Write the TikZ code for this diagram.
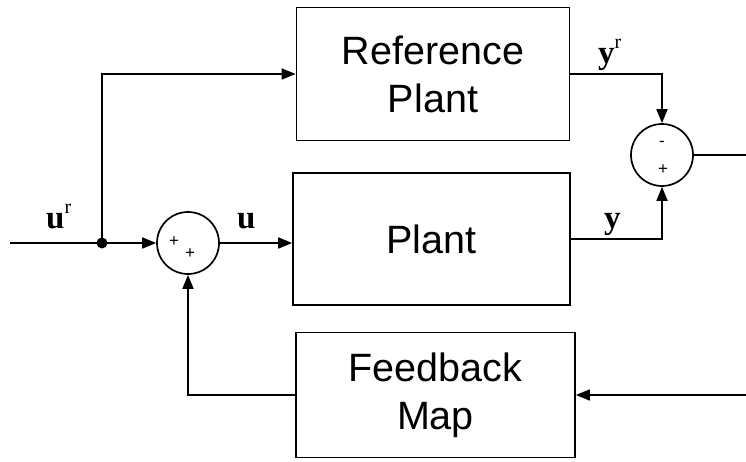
\documentclass[tikz,border=0pt]{standalone}
\usepackage{fontspec}
\setmainfont{Liberation Sans}
\newfontfamily\labfont{Liberation Serif}
\usetikzlibrary{arrows.meta}
\tikzset{
  blockbox/.style={draw, line width=1.7pt, rectangle, align=center,
    font=\fontsize{39.5}{48}\selectfont, inner sep=0pt},
  sumnode/.style={draw, line width=1.7pt, circle, minimum size=62pt, inner sep=0pt},
  sig/.style={line width=1.7pt},
  arr/.style={sig, -{Triangle[length=14pt,width=11pt]}},
  lab/.style={font=\labfont\bfseries\fontsize{33}{36}\selectfont, inner sep=0pt, anchor=base west},
  sign/.style={font=\fontsize{17}{17}\selectfont, inner sep=0pt},
}
\newcommand{\supr}{\raisebox{15pt}{\labfont\mdseries\fontsize{20}{20}\selectfont r}}
\begin{document}
\begin{tikzpicture}[x=1pt,y=-1pt]
\useasboundingbox (0,0) rectangle (746,462);
\node[blockbox, minimum width=273pt, minimum height=133pt] (refp) at (433,74) {Reference\\Plant};
\node[blockbox, minimum width=277pt, minimum height=132pt] (plant) at (431.5,239) {Plant};
\node[blockbox, minimum width=279pt, minimum height=125pt] (fb) at (435.5,395) {Feedback\\Map};
\node[sumnode] (s1) at (188,243) {};
\node[sumnode] (s2) at (662,155) {};
\node[sign] (p1) at (174,242) {+};
\node[sign] (p2) at (190,254) {+};
\node[sign] (m3) at (662,144) {-};
\node[sign] (p4) at (663,170) {+};
\coordinate (in) at (10,243);
\coordinate (dot) at (102,243);
\coordinate (out) at (746,155);
\coordinate (fbin) at (746,395);
\fill (dot) circle (5.5pt);
\draw[sig] (in) -- (dot);
\draw[arr] (dot) -- (s1.west);
\draw[arr] (dot) |- (refp.west);
\draw[arr] (s1.east) -- (s1.east -| plant.west);
\draw[arr] (refp.east) -| (s2.north);
\draw[arr] (plant.east) -| (s2.south);
\draw[sig] (s2.east) -- (out);
\draw[arr] (fbin) -- (fb.east);
\draw[arr] (fb.west) -| (s1.south);
\node[lab] (lur) at (46,229) {u\supr};
\node[lab] (lu) at (237,229) {u};
\node[lab] (lyr) at (598,64) {y\supr};
\node[lab] (ly) at (604,229) {y};
\end{tikzpicture}
\end{document}
